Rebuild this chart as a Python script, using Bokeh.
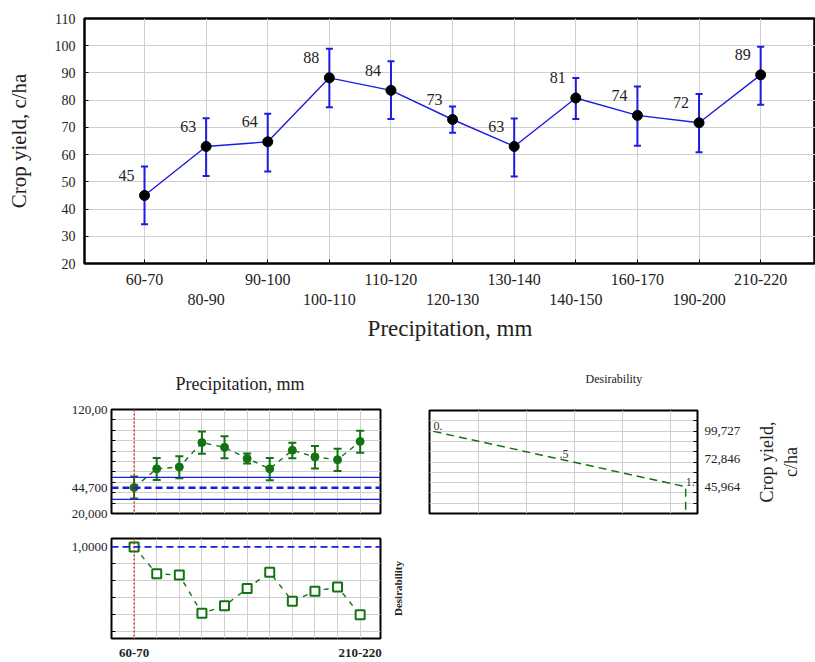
import math
from bokeh.plotting import figure
from bokeh.models import (Range1d, FixedTicker, LinearAxis, Whisker, TeeHead,
                          ColumnDataSource, Span, Title)
from bokeh.layouts import column, row
from bokeh.embed import file_html
from bokeh.resources import INLINE
from bokeh.core.properties import value

# ---------------- data ----------------
categories = ["60-70", "80-90", "90-100", "100-110", "110-120", "120-130",
              "130-140", "140-150", "160-170", "190-200", "210-220"]
yield_mean = [45.0, 63.0, 64.7, 88.2, 83.6, 72.9, 63.0, 80.8, 74.4, 71.7, 89.3]
yield_upper = [55.6, 73.4, 75.0, 98.9, 94.3, 77.7, 73.3, 88.1, 85.0, 82.3, 99.6]
yield_lower = [34.4, 52.1, 53.8, 77.4, 73.1, 68.0, 52.0, 73.1, 63.3, 60.9, 78.3]
value_labels = ["45", "63", "64", "88", "84", "73", "63", "81", "74", "72", "89"]
desirability = [1.0, 0.68, 0.665, 0.21, 0.30, 0.505, 0.70, 0.353, 0.473, 0.523, 0.192]

interval_mean = 44.7
interval_low = 33.5
interval_high = 54.8
selected_index = 0

left_ticks = [20.0, 44.7, 120.0]
left_tick_labels = ["20,000", "44,700", "120,00"]
des_ticks = [1.0]
des_tick_labels = ["1,0000"]

profile_d = [0.0, 0.5, 1.0]
profile_yield = [99.727, 72.846, 45.964]
profile_labels = ["0.", ".5", "1."]
profile_tick_labels = ["99,727", "72,846", "45,964"]
profile_floor = 20.0

SERIF = "Liberation Serif"
TXT = "#222222"
BLUE = "#1c1ce0"
GREEN = "#137313"
RED = "#e01010"
GRID = "#cfcfcf"

idx = list(range(len(categories)))
src = ColumnDataSource(dict(x=idx, y=yield_mean, upper=yield_upper,
                            lower=yield_lower, lab=value_labels, d=desirability))


def style_axis(ax, size="13px", bold=False):
    ax.axis_line_color = None
    ax.major_tick_line_color = None
    ax.minor_tick_line_color = None
    ax.major_tick_in = 0
    ax.major_tick_out = 0
    ax.minor_tick_in = 0
    ax.minor_tick_out = 0
    ax.major_label_text_font = SERIF
    ax.major_label_text_font_size = size
    ax.major_label_text_color = TXT
    ax.major_label_text_font_style = "bold" if bold else "normal"
    ax.axis_label_text_font = SERIF
    ax.axis_label_text_font_style = "normal"
    ax.axis_label_text_color = TXT


def base_fig(**kw):
    p = figure(output_backend="svg", toolbar_location=None, **kw)
    p.outline_line_color = "black"
    p.outline_line_width = 2
    p.background_fill_color = "white"
    p.border_fill_color = "white"
    p.xgrid.grid_line_color = GRID
    p.ygrid.grid_line_color = GRID
    return p


def add_title(p, text, size, offset, gap):
    # an empty spacer title next to the frame, then the visible title above it
    p.add_layout(Title(text=" ", text_font_size="10px", standoff=gap), "above")
    p.add_layout(Title(text=text, align="left", offset=offset, standoff=0,
                       text_font=SERIF, text_font_size=size,
                       text_font_style="normal", text_color=TXT), "above")


def label_strip(width, height, top, bottom, text, size, bold=False, standoff=5):
    """Narrow figure whose only content is a left axis title (reads bottom-to-top)."""
    s = figure(output_backend="svg", toolbar_location=None, width=width, height=height,
               x_range=Range1d(0, 1), y_range=Range1d(0, 1), x_axis_location=None,
               min_border_left=width - 5, min_border_right=0,
               min_border_top=top, min_border_bottom=bottom)
    s.outline_line_color = None
    s.xgrid.visible = False
    s.ygrid.visible = False
    s.border_fill_color = "white"
    ax = s.yaxis[0]
    style_axis(ax)
    ax.ticker = FixedTicker(ticks=[])
    ax.major_label_standoff = 0
    ax.axis_label = text
    ax.axis_label_text_font_size = size
    ax.axis_label_text_font_style = "bold" if bold else "normal"
    ax.axis_label_standoff = standoff
    return s


# ---------------- top chart ----------------
top = base_fig(width=815, height=353, x_range=Range1d(-0.974, 10.89),
               y_range=Range1d(20, 110), min_border_left=84, min_border_top=18,
               min_border_right=0, min_border_bottom=90)
top.outline_line_width = 2.5
top.xgrid.ticker = FixedTicker(ticks=idx)
top.ygrid.ticker = FixedTicker(ticks=list(range(20, 111, 10)))

ya = top.yaxis[0]
style_axis(ya, "14px")
ya.ticker = FixedTicker(ticks=list(range(20, 111, 10)))
ya.major_tick_line_color = "black"
ya.major_tick_in = 4
ya.major_label_standoff = 9
ya.axis_label = "Crop yield, c/ha"
ya.axis_label_text_font_size = "21px"
ya.axis_label_standoff = 21

xa1 = top.xaxis[0]
style_axis(xa1, "16px")
xa1.ticker = FixedTicker(ticks=idx)
xa1.major_tick_line_color = "black"
xa1.major_tick_in = 4
xa1.major_label_overrides = {i: (categories[i] if i % 2 == 0 else " ") for i in idx}
xa1.major_label_standoff = 7

xa2 = LinearAxis()
style_axis(xa2, "16px")
xa2.ticker = FixedTicker(ticks=idx)
xa2.major_label_overrides = {i: (categories[i] if i % 2 == 1 else " ") for i in idx}
xa2.major_label_standoff = 0
xa2.axis_label = "Precipitation, mm"
xa2.axis_label_text_font_size = "23px"
xa2.axis_label_standoff = 5
top.add_layout(xa2, "below")

top.line("x", "y", source=src, line_color=BLUE, line_width=1.4)
top.add_layout(Whisker(source=src, base="x", upper="upper", lower="lower",
                       line_color=BLUE, line_width=2,
                       upper_head=TeeHead(size=7, line_color=BLUE, line_width=2),
                       lower_head=TeeHead(size=7, line_color=BLUE, line_width=2)))
top.scatter("x", "y", source=src, size=10, color="black")
top.text("x", "y", text="lab", source=src, x_offset=-18, y_offset=-20,
         text_align="center", text_baseline="middle", text_font=value(SERIF),
         text_font_size="16px", text_color=TXT)

# ---------------- bottom-left upper panel ----------------
bl1 = base_fig(width=415, height=167, x_range=Range1d(-1.0, 10.9),
               y_range=Range1d(20, 120), min_border_left=111, min_border_right=35,
               min_border_top=56, min_border_bottom=7, x_axis_location=None,
               title=None)
add_title(bl1, "Precipitation, mm", "18px", 64, 3)
bl1.xgrid.ticker = FixedTicker(ticks=idx)
bl1.ygrid.ticker = FixedTicker(ticks=list(range(30, 120, 10)))
la = bl1.yaxis[0]
style_axis(la, "13px")
la.ticker = FixedTicker(ticks=left_ticks, minor_ticks=list(range(30, 120, 10)))
la.major_label_overrides = dict(zip(left_ticks, left_tick_labels))
la.major_tick_line_color = "black"
la.minor_tick_line_color = "black"
la.major_tick_in = 4
la.minor_tick_in = 4
la.major_label_standoff = 4

bl1.add_layout(Span(location=interval_high, dimension="width", line_color=BLUE, line_width=1.3))
bl1.add_layout(Span(location=interval_low, dimension="width", line_color=BLUE, line_width=1.3))
bl1.add_layout(Span(location=interval_mean, dimension="width", line_color=BLUE,
                    line_width=2.5, line_dash="7 4"))
bl1.add_layout(Span(location=selected_index, dimension="height", line_color=RED,
                    line_width=1.2, line_dash="2 2"))
bl1.line("x", "y", source=src, line_color=GREEN, line_width=1.4, line_dash="5 5")
bl1.add_layout(Whisker(source=src, base="x", upper="upper", lower="lower",
                       line_color=GREEN, line_width=2,
                       upper_head=TeeHead(size=8, line_color=GREEN, line_width=2),
                       lower_head=TeeHead(size=8, line_color=GREEN, line_width=2)))
bl1.scatter("x", "y", source=src, size=8, color=GREEN)

# ---------------- bottom-left lower panel ----------------
bl2 = base_fig(width=385, height=142, x_range=Range1d(-1.0, 10.9),
               y_range=Range1d(-0.089, 1.1), min_border_left=111, min_border_right=5,
               min_border_top=18, min_border_bottom=21)
bl2.xgrid.ticker = FixedTicker(ticks=idx)
bl2.ygrid.ticker = FixedTicker(ticks=[0.0, 0.2, 0.4, 0.6, 0.8])
da = bl2.yaxis[0]
style_axis(da, "13px")
da.ticker = FixedTicker(ticks=des_ticks, minor_ticks=[0.0, 0.2, 0.4, 0.6, 0.8])
da.major_label_overrides = dict(zip(des_ticks, des_tick_labels))
da.minor_tick_line_color = "black"
da.minor_tick_in = 4
da.major_label_standoff = 4
xb = bl2.xaxis[0]
style_axis(xb, "13px", bold=True)
xb.ticker = FixedTicker(ticks=idx)
xb.major_label_overrides = {i: (categories[i] if i in (0, len(idx) - 1) else " ") for i in idx}
xb.major_label_standoff = 6

bl2.add_layout(Span(location=des_ticks[0], dimension="width", line_color=BLUE,
                    line_width=1.6, line_dash="7 4"))
bl2.add_layout(Span(location=selected_index, dimension="height", line_color=RED,
                    line_width=1.2, line_dash="2 2"))
bl2.line("x", "d", source=src, line_color=GREEN, line_width=1.4, line_dash="5 6")
bl2.scatter("x", "d", source=src, marker="square", size=9, fill_color="white",
            line_color=GREEN, line_width=2)

des_strip = label_strip(30, 142, 18, 21, "Desirability", "11px", bold=True, standoff=7)

# ---------------- bottom-right panel ----------------
br = base_fig(width=328, height=170, x_range=Range1d(-0.016, 1.047),
              y_range=Range1d(20, 120), min_border_left=14, min_border_top=57,
              min_border_right=45, min_border_bottom=10, x_axis_location=None,
              y_axis_location="right", title=None)
add_title(br, "Desirability", "12px", 156, 12)
br.xgrid.ticker = FixedTicker(ticks=[0.18, 0.37, 0.56, 0.75, 0.94])
br.ygrid.ticker = FixedTicker(ticks=list(range(30, 120, 10)))
rya = br.yaxis[0]
style_axis(rya, "13px")
rya.ticker = FixedTicker(ticks=profile_yield, minor_ticks=list(range(30, 120, 10)))
rya.major_label_overrides = dict(zip(profile_yield, profile_tick_labels))
rya.minor_tick_line_color = "black"
rya.minor_tick_in = 4
rya.major_label_standoff = 7

br.line(profile_d + [profile_d[-1]], profile_yield + [profile_floor],
        line_color=GREEN, line_width=1.5, line_dash="8 5")
br.text(profile_d, profile_yield, text=profile_labels, x_offset=0, y_offset=-1,
        text_align="left", text_baseline="bottom", text_font=value(SERIF),
        text_font_size="12px", text_color="#333333")

crop_strip = label_strip(72, 170, 57, 10, "Crop yield,\nc/ha", "18px", standoff=10)

layout = column(top, row(column(bl1, row(bl2, des_strip)), br, crop_strip))
open("out.html", "w").write(file_html(layout, INLINE))
